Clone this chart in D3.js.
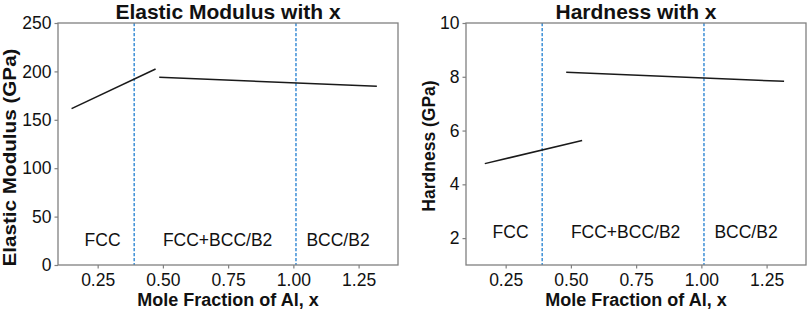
<!DOCTYPE html>
<html><head><meta charset="utf-8">
<script src="https://cdn.jsdelivr.net/npm/d3@7"></script>
<style>body{margin:0;background:#fff}svg{display:block;font-family:"Liberation Sans",Arial,sans-serif}</style>
</head><body><svg id="c" width="809" height="310"></svg>
<script>
const xTicks = [0.25, 0.5, 0.75, 1.0, 1.25];
const phaseBounds = [0.39, 1.01];
const phaseNames = ["FCC", "FCC+BCC/B2", "BCC/B2"];
const phaseLabelX = [0.2, 0.5, 1.05];

const modulusFCC = [[0.15, 161.5], [0.472, 202.5]];
const modulusMixed = [[0.486, 193.9], [1.32, 184.6]];
const modulusTicks = [0, 50, 100, 150, 200, 250];

const hardnessFCC = [[0.17, 4.77], [0.543, 5.63]];
const hardnessMixed = [[0.482, 8.17], [1.317, 7.83]];
const hardnessTicks = [2, 4, 6, 8, 10];

const svg = d3.select("#c");

function panel(o) {
  const g = svg.append("g");
  const x = d3.scaleLinear().domain([0.098, 1.401]).range([o.left, o.left + 340]);
  const y = d3.scaleLinear().domain(o.yDomain).range([265, 23]);
  const tickFmt = d3.format(".2f");

  g.selectAll(".vb").data(phaseBounds).join("line")
    .attr("x1", d => x(d)).attr("x2", d => x(d)).attr("y1", 23).attr("y2", 265)
    .attr("stroke", "#3d8fd6").attr("stroke-width", 1.5).attr("stroke-dasharray", "3.2,1.8");

  const line = d3.line().x(d => x(d[0])).y(d => y(d[1]));
  [o.s1, o.s2].forEach(s => g.append("path").attr("d", line(s))
    .attr("fill", "none").attr("stroke", "#1a1a1a").attr("stroke-width", 1.5));

  g.selectAll(".pl").data(phaseNames).join("text")
    .attr("x", (d, i) => x(phaseLabelX[i])).attr("y", y(o.labelY))
    .attr("font-size", 17.5).attr("fill", "#111").text(d => d);

  const xa = g.append("g").attr("transform", "translate(0,265)")
    .call(d3.axisBottom(x).tickValues(xTicks).tickFormat(tickFmt).tickSize(3.5).tickPadding(4));
  const ya = g.append("g").attr("transform", `translate(${o.left},0)`)
    .call(d3.axisLeft(y).tickValues(o.yTicks).tickFormat(d3.format("d")).tickSize(3.5).tickPadding(3));
  [xa, ya].forEach(a => {
    a.select(".domain").remove();
    a.selectAll("line").attr("stroke", "#808080").attr("stroke-width", 1.2);
    a.selectAll("text").attr("font-size", 17.5).attr("fill", "#111").attr("font-family", "Liberation Sans, Arial, sans-serif");
  });
  xa.selectAll("text").attr("dy", "0.75em");

  g.append("rect").attr("x", o.left).attr("y", 23).attr("width", 340).attr("height", 242)
    .attr("fill", "none").attr("stroke", "#808080").attr("stroke-width", 1.3);

  g.append("text").attr("x", o.left + 170).attr("y", 18.5).attr("text-anchor", "middle")
    .attr("font-size", 21).attr("font-weight", "bold").attr("fill", "#111").text(o.title);
  g.append("text").attr("x", o.left + 170).attr("y", 305.5).attr("text-anchor", "middle")
    .attr("font-size", 18).attr("font-weight", "bold").attr("fill", "#111").text("Mole Fraction of Al, x");
  const yl = g.append("text").attr("transform", `translate(${o.ylx},${o.yly}) rotate(-90)`)
    .attr("text-anchor", "middle").attr("dy", "0.35em")
    .attr("font-size", o.ylSize).attr("font-weight", "bold").attr("fill", "#111").text(o.ylabel);
  if (o.ylLen) yl.attr("textLength", o.ylLen).attr("lengthAdjust", "spacingAndGlyphs");
}

panel({left: 58, yDomain: [0, 250], yTicks: modulusTicks, s1: modulusFCC, s2: modulusMixed,
  labelY: 20, title: "Elastic Modulus with x", ylabel: "Elastic Modulus (GPa)",
  ylx: 9.5, yly: 157.5, ylSize: 18, ylLen: 218});
panel({left: 466, yDomain: [1, 10], yTicks: hardnessTicks, s1: hardnessFCC, s2: hardnessMixed,
  labelY: 2, title: "Hardness with x", ylabel: "Hardness (GPa)",
  ylx: 429, yly: 146, ylSize: 17.5});
</script></body></html>
